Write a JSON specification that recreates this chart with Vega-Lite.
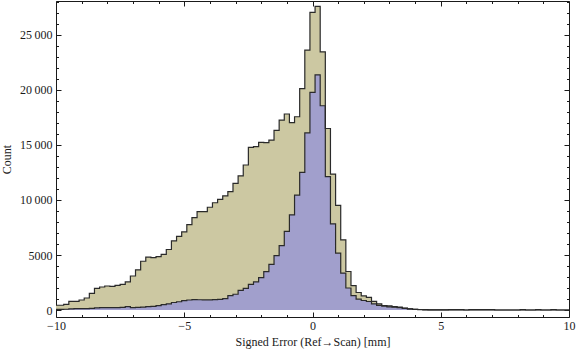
{
  "$schema": "https://vega.github.io/schema/vega-lite/v6.json",
  "width": 513,
  "height": 316,
  "autosize": {"type": "none"},
  "padding": {"left": 56, "top": 1, "right": 7, "bottom": 40},
  "background": "white",
  "config": {
    "view": {"stroke": "#1a1a1a", "strokeWidth": 1},
    "axis": {
      "domain": false, "grid": false,
      "labelFont": "Liberation Serif", "titleFont": "Liberation Serif",
      "labelFontSize": 12, "titleFontSize": 12,
      "labelColor": "#1a1a1a", "titleColor": "#1a1a1a", "titleFontWeight": "normal",
      "tickColor": "#1a1a1a", "tickWidth": 1,
      "labelFlush": false, "labelOverlap": false, "labelBound": false
    }
  },
  "data": {"values": [
    {"error": -10.0, "all": 430, "sub": 60},
    {"error": -9.8, "all": 430, "sub": 60},
    {"error": -9.6, "all": 520, "sub": 70},
    {"error": -9.4, "all": 790, "sub": 110},
    {"error": -9.2, "all": 790, "sub": 120},
    {"error": -9.0, "all": 910, "sub": 120},
    {"error": -8.8, "all": 1090, "sub": 130},
    {"error": -8.6, "all": 1520, "sub": 140},
    {"error": -8.4, "all": 1970, "sub": 200},
    {"error": -8.2, "all": 2090, "sub": 210},
    {"error": -8.0, "all": 2180, "sub": 210},
    {"error": -7.8, "all": 2150, "sub": 220},
    {"error": -7.6, "all": 2240, "sub": 220},
    {"error": -7.4, "all": 2330, "sub": 230},
    {"error": -7.2, "all": 2550, "sub": 300},
    {"error": -7.0, "all": 3090, "sub": 220},
    {"error": -6.8, "all": 3650, "sub": 240},
    {"error": -6.6, "all": 4430, "sub": 260},
    {"error": -6.4, "all": 4800, "sub": 300},
    {"error": -6.2, "all": 4760, "sub": 330},
    {"error": -6.0, "all": 4850, "sub": 400},
    {"error": -5.8, "all": 5050, "sub": 480},
    {"error": -5.6, "all": 5500, "sub": 560},
    {"error": -5.4, "all": 6280, "sub": 680},
    {"error": -5.2, "all": 6700, "sub": 750},
    {"error": -5.0, "all": 7100, "sub": 850},
    {"error": -4.8, "all": 7760, "sub": 910},
    {"error": -4.6, "all": 8400, "sub": 940},
    {"error": -4.4, "all": 8950, "sub": 930},
    {"error": -4.2, "all": 8950, "sub": 920},
    {"error": -4.0, "all": 9340, "sub": 920},
    {"error": -3.8, "all": 9750, "sub": 940},
    {"error": -3.6, "all": 10050, "sub": 970},
    {"error": -3.4, "all": 10380, "sub": 1040},
    {"error": -3.2, "all": 10770, "sub": 1300},
    {"error": -3.0, "all": 11520, "sub": 1430},
    {"error": -2.8, "all": 12200, "sub": 1790},
    {"error": -2.6, "all": 13180, "sub": 1970},
    {"error": -2.4, "all": 14790, "sub": 2330},
    {"error": -2.2, "all": 14850, "sub": 2550},
    {"error": -2.0, "all": 15240, "sub": 2940},
    {"error": -1.8, "all": 15210, "sub": 3480},
    {"error": -1.6, "all": 15450, "sub": 4150},
    {"error": -1.4, "all": 16330, "sub": 4940},
    {"error": -1.2, "all": 17270, "sub": 5850},
    {"error": -1.0, "all": 17820, "sub": 7140},
    {"error": -0.8, "all": 17030, "sub": 8650},
    {"error": -0.6, "all": 17570, "sub": 10440},
    {"error": -0.4, "all": 20120, "sub": 12520},
    {"error": -0.2, "all": 23630, "sub": 16100},
    {"error": 0.0, "all": 27050, "sub": 19790},
    {"error": 0.2, "all": 27600, "sub": 21380},
    {"error": 0.4, "all": 23470, "sub": 18570},
    {"error": 0.6, "all": 16500, "sub": 12130},
    {"error": 0.8, "all": 12360, "sub": 7830},
    {"error": 1.0, "all": 9520, "sub": 5170},
    {"error": 1.2, "all": 6380, "sub": 3360},
    {"error": 1.4, "all": 3500, "sub": 2000},
    {"error": 1.6, "all": 2220, "sub": 1300},
    {"error": 1.8, "all": 1590, "sub": 985},
    {"error": 2.0, "all": 1280, "sub": 865},
    {"error": 2.2, "all": 1150, "sub": 775},
    {"error": 2.4, "all": 790, "sub": 560},
    {"error": 2.6, "all": 560, "sub": 420},
    {"error": 2.8, "all": 410, "sub": 340},
    {"error": 3.0, "all": 370, "sub": 290},
    {"error": 3.2, "all": 310, "sub": 250},
    {"error": 3.4, "all": 270, "sub": 210},
    {"error": 3.6, "all": 180, "sub": 150},
    {"error": 3.8, "all": 110, "sub": 100},
    {"error": 4.0, "all": 70, "sub": 60},
    {"error": 4.2, "all": 45, "sub": 35},
    {"error": 4.4, "all": 30, "sub": 20},
    {"error": 4.6, "all": 20, "sub": 12},
    {"error": 4.8, "all": 20, "sub": 10},
    {"error": 5.0, "all": 15, "sub": 8},
    {"error": 5.2, "all": 10, "sub": 5},
    {"error": 5.4, "all": 40, "sub": 10},
    {"error": 5.6, "all": 40, "sub": 10},
    {"error": 5.8, "all": 40, "sub": 10},
    {"error": 6.0, "all": 0, "sub": 0},
    {"error": 6.2, "all": 40, "sub": 8},
    {"error": 6.4, "all": 40, "sub": 8},
    {"error": 6.6, "all": 40, "sub": 8},
    {"error": 6.8, "all": 40, "sub": 8},
    {"error": 7.0, "all": 40, "sub": 8},
    {"error": 7.2, "all": 0, "sub": 0},
    {"error": 7.4, "all": 0, "sub": 0},
    {"error": 7.6, "all": 0, "sub": 0},
    {"error": 7.8, "all": 0, "sub": 0},
    {"error": 8.0, "all": 0, "sub": 0},
    {"error": 8.2, "all": 40, "sub": 5},
    {"error": 8.4, "all": 0, "sub": 0},
    {"error": 8.6, "all": 0, "sub": 0},
    {"error": 8.8, "all": 40, "sub": 5},
    {"error": 9.0, "all": 0, "sub": 0},
    {"error": 9.2, "all": 0, "sub": 0},
    {"error": 9.4, "all": 40, "sub": 5},
    {"error": 9.6, "all": 0, "sub": 0},
    {"error": 9.8, "all": 0, "sub": 0},
    {"error": 10.0, "all": 0, "sub": 0}
  ]},
  "resolve": {"axis": {"x": "independent", "y": "independent"}},
  "layer": [
    {
      "mark": {"type": "area", "interpolate": "step", "color": "#CCC8A2", "opacity": 1},
      "encoding": {
        "x": {"field": "error", "type": "quantitative",
          "scale": {"domain": [-10, 10], "nice": false, "zero": false},
          "axis": {"orient": "bottom", "values": [-10, -5, 0, 5, 10], "tickSize": -5, "labelPadding": 8,
            "title": "Signed Error (Ref\u2192Scan) [mm]", "titlePadding": 5}},
        "y": {"field": "all", "type": "quantitative",
          "scale": {"domain": [-636, 28090], "nice": false, "zero": false},
          "axis": {"orient": "left", "values": [0, 5000, 10000, 15000, 20000, 25000], "tickSize": -5, "labelPadding": 9,
            "labelExpr": "datum.value >= 10000 ? floor(datum.value / 1000) + '\u2009000' : '' + datum.value",
            "title": "Count", "titlePadding": 6}},
        "y2": {"datum": 0}
      }
    },
    {
      "mark": {"type": "area", "interpolate": "step", "color": "#A19FCC", "opacity": 1},
      "encoding": {
        "x": {"field": "error", "type": "quantitative",
          "scale": {"domain": [-10, 10], "nice": false, "zero": false},
          "axis": {"orient": "bottom", "values": [-9, -8, -7, -6, -4, -3, -2, -1, 1, 2, 3, 4, 6, 7, 8, 9], "tickSize": -2.5, "labels": false, "title": null}},
        "y": {"field": "sub", "type": "quantitative",
          "scale": {"domain": [-636, 28090], "nice": false, "zero": false},
          "axis": {"orient": "left", "values": [1000, 2000, 3000, 4000, 6000, 7000, 8000, 9000, 11000, 12000, 13000, 14000, 16000, 17000, 18000, 19000, 21000, 22000, 23000, 24000, 26000, 27000, 28000], "tickSize": -2.5, "labels": false, "title": null}},
        "y2": {"datum": 0}
      }
    },
    {
      "mark": {"type": "line", "interpolate": "step", "color": "#2a2a2a", "strokeWidth": 1.2},
      "encoding": {
        "x": {"field": "error", "type": "quantitative",
          "scale": {"domain": [-10, 10], "nice": false, "zero": false},
          "axis": {"orient": "top", "values": [-10, -5, 0, 5, 10], "tickSize": -5, "labels": false, "title": null}},
        "y": {"field": "all", "type": "quantitative",
          "scale": {"domain": [-636, 28090], "nice": false, "zero": false},
          "axis": {"orient": "right", "values": [0, 5000, 10000, 15000, 20000, 25000], "tickSize": -5, "labels": false, "title": null}}
      }
    },
    {
      "mark": {"type": "line", "interpolate": "step", "color": "#2a2a2a", "strokeWidth": 1.2},
      "encoding": {
        "x": {"field": "error", "type": "quantitative",
          "scale": {"domain": [-10, 10], "nice": false, "zero": false},
          "axis": {"orient": "top", "values": [-9, -8, -7, -6, -4, -3, -2, -1, 1, 2, 3, 4, 6, 7, 8, 9], "tickSize": -2.5, "labels": false, "title": null}},
        "y": {"field": "sub", "type": "quantitative",
          "scale": {"domain": [-636, 28090], "nice": false, "zero": false},
          "axis": {"orient": "right", "values": [1000, 2000, 3000, 4000, 6000, 7000, 8000, 9000, 11000, 12000, 13000, 14000, 16000, 17000, 18000, 19000, 21000, 22000, 23000, 24000, 26000, 27000, 28000], "tickSize": -2.5, "labels": false, "title": null}}
      }
    }
  ]
}
